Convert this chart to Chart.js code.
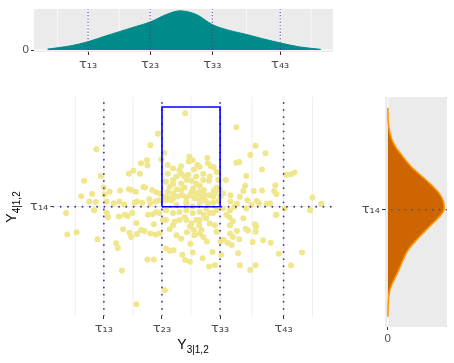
<!DOCTYPE html>
<html><head><meta charset="utf-8">
<script src="https://cdn.jsdelivr.net/npm/chart.js"></script>
<style>
html,body{margin:0;padding:0;background:#fff;width:454px;height:363px;overflow:hidden;font-family:'Liberation Sans',Arial,sans-serif;}
.box{position:absolute;}
.title{position:absolute;font-size:14px;color:#000;white-space:nowrap;line-height:16px;}
.title .s{font-size:10px;position:relative;top:4px;}
</style></head><body>
<div class="box" style="left:0;top:0;width:340px;height:80px"><canvas id="ct" width="340" height="80"></canvas></div>
<div class="box" style="left:0;top:80px;width:340px;height:283px"><canvas id="cm" width="340" height="283"></canvas></div>
<div class="box" style="left:340px;top:80px;width:114px;height:283px"><canvas id="cr" width="114" height="283"></canvas></div>
<div class="title" style="left:53px;width:280px;top:336px;text-align:center">Y<span class="s">3|1,2</span></div>
<div class="title" style="left:-28px;top:198px;width:80px;text-align:center;transform:rotate(-90deg)">Y<span class="s">4|1,2</span></div>
<script>
// ---- data ----
const tauXLabels = ['τ₁₃', 'τ₂₃', 'τ₃₃', 'τ₄₃'];
const tauX = [-1.5, -0.5, 0.5, 1.593];
const tauYLabels = ['τ₁₄'];
const tauY = [0];
const minorX = [-1.99, -1.0, 0.0, 1.05, 2.09];
const xRange = [-2.37, 2.443];
const yRangeMain = [-1.884, 1.897];
const yRangeSide = [-1.845, 1.775];
const densRange = [-0.05, 1.05];
const boxTop = 1.719;

// scatter: Y3|1,2 (x) and Y4|1,2 (y)
const y3 = [-0.10,-0.57,0.78,-1.63,-0.70,-0.46,-0.76,-0.51,1.11,1.28,1.02,0.83,0.78,-0.03,-0.04,0.28,0.11,0.05,0.15,0.34,0.39,-0.31,-0.20,-0.17,-0.25,1.22,-0.86,-0.99,-1.07,-0.88,-1.55,-1.84,-0.43,1.64,1.72,1.78,0.95,0.60,0.32,0.31,0.01,-0.07,-0.17,-0.31,-0.37,-0.25,0.04,0.15,0.22,0.44,0.49,0.39,0.68,0.93,0.90,1.08,1.22,1.45,1.43,1.47,-1.89,-1.70,-1.50,-1.49,-1.40,-1.22,-1.07,-1.03,-0.95,-0.82,-0.79,-0.67,-0.60,-0.53,-1.75,-1.64,-1.45,-1.33,-1.23,-1.15,-0.97,-0.93,-0.84,-0.72,-0.70,-0.61,-0.55,-0.46,-0.40,-0.34,-0.23,-0.15,-0.08,-0.02,0.06,0.16,0.20,0.25,0.29,0.38,0.47,0.51,0.68,0.79,0.84,0.97,1.13,1.17,1.30,1.36,2.09,2.24,-0.25,-0.08,0.03,0.15,-0.40,-0.11,0.09,0.21,-0.31,0.15,0.32,-0.17,-0.43,0.47,0.44,0.03,-0.75,0.55,
-0.31,-0.11,0.01,0.09,0.24,0.38,-0.40,-0.31,-0.08,0.15,0.41,0.09,-0.05,0.21,0.29,-0.17,-0.40,
-2.15,-2.13,-1.97,-1.61,-1.67,-1.45,-1.43,-1.29,-1.26,-1.19,-1.24,-1.14,-1.09,-1.01,-1.17,-1.06,-1.03,-0.94,-0.93,-0.86,-0.80,-0.74,-0.66,-0.60,-0.55,-0.64,-0.75,-0.64,-0.70,-0.61,-0.54,-0.45,-0.94,-0.48,-0.43,-0.37,-0.43,-0.36,-0.30,-0.28,-0.20,-0.11,-0.15,-0.10,-0.02,-0.07,-0.02,0.01,0.05,0.09,0.14,0.18,0.22,0.26,0.32,0.38,0.41,0.44,-0.01,0.03,0.20,0.27,0.31,0.41,0.37,0.52,0.51,0.56,0.63,0.70,0.61,0.66,0.67,0.72,0.79,0.83,0.81,0.84,0.90,0.94,0.98,1.02,1.11,1.06,1.10,1.12,1.24,1.37,1.47,1.51,1.61,1.72,1.91,2.05,0.55,0.67,0.75,0.95,1.04,0.67,0.72,0.15,0.21,0.06,-0.25,-0.17,1.46,1.11,
-0.43,-0.31,-0.20,-0.08,0.03,0.15,0.26,0.44,-0.08,0.15,0.32,-0.31];
const y4 = [1.61,1.26,1.37,0.99,1.06,0.93,0.80,0.82,1.05,0.92,0.89,0.77,0.76,0.86,0.78,0.84,0.72,0.64,0.69,0.70,0.68,0.66,0.63,0.57,0.52,0.64,0.75,0.62,0.57,0.57,0.53,0.45,0.43,0.55,0.56,0.59,0.53,0.46,0.52,0.45,0.45,0.46,0.40,0.39,0.34,0.30,0.32,0.36,0.29,0.33,0.29,0.28,0.20,0.36,0.27,0.27,0.28,0.37,0.27,0.22,0.18,0.22,0.33,0.21,0.26,0.28,0.30,0.29,0.26,0.34,0.33,0.29,0.25,0.23,0.09,0.08,0.09,0.06,0.09,0.04,0.07,0.09,0.07,0.13,0.06,0.09,0.11,0.17,0.16,0.11,0.18,0.20,0.16,0.20,0.14,0.17,0.13,0.10,0.06,0.07,0.10,0.18,0.09,0.05,0.17,0.11,0.10,0.06,0.05,0.06,0.16,0.05,0.03,0.05,0.01,0.05,0.57,0.52,0.52,0.46,0.23,0.26,0.20,0.29,0.11,0.46,0.60,0.80,0.71,0.23,
0.46,0.33,0.26,0.23,0.20,0.17,0.26,0.14,0.09,0.11,0.23,0.40,0.55,0.57,0.75,0.70,0.72,
-0.11,-0.48,-0.44,-0.56,-0.06,-0.11,-0.18,-0.63,-0.71,-1.10,-0.17,-0.14,-0.16,-0.11,-0.39,-0.45,-0.52,-0.28,-0.47,-0.40,-0.42,-0.14,-0.13,-0.09,-0.11,-0.30,-0.91,-0.91,-0.46,-0.48,-0.46,-1.44,-1.68,-0.23,-0.23,-0.39,-0.72,-0.76,-0.75,-0.26,-0.23,-0.18,-0.83,-0.92,-0.95,-0.44,-0.34,-0.29,-0.40,-0.23,-0.32,-0.40,-0.14,-0.20,-0.11,-0.11,-0.32,-0.43,-0.64,-0.79,-0.89,-0.60,-1.03,-1.01,-0.78,-0.83,-0.60,-0.57,-0.62,-0.66,-0.14,-0.18,-0.32,-0.25,-0.42,-0.56,-0.80,-1.01,-0.20,-0.38,-0.41,-1.09,-1.01,-0.61,-0.30,-0.34,-0.58,-0.62,-0.14,-0.81,-0.03,-1.01,-0.79,-0.06,-0.03,-0.06,0.00,-0.03,0.03,-0.46,-0.52,-0.46,-0.52,-0.49,-0.49,-0.55,-0.14,-0.43,
-0.06,-0.11,-0.09,-0.06,-0.11,-0.09,-0.03,-0.06,-0.23,-0.23,-0.29,-0.32];

// marginal density of Y3|1,2 (relative height)
const densXGrid = [-2.152,-1.78,-1.50,-1.222,-0.982,-0.741,-0.50,-0.232,-0.018,0.195,0.302,0.41,0.50,0.624,0.837,1.052,1.314,1.587,1.908,2.245];
const densXVal  = [0.024,0.107,0.214,0.357,0.476,0.595,0.714,0.912,1.0,0.936,0.857,0.738,0.65,0.571,0.476,0.398,0.286,0.183,0.079,0.017];
// marginal density of Y4|1,2 (relative height)
const densYGrid = [1.606,1.35,1.124,0.992,0.835,0.677,0.468,0.258,0.126,0.022,-0.11,-0.215,-0.425,-0.635,-0.79,-0.976,-1.134,-1.265,-1.42,-1.685];
const densYVal  = [0.0,0.01,0.064,0.135,0.269,0.415,0.678,0.912,0.988,1.0,0.912,0.795,0.561,0.357,0.27,0.18,0.093,0.035,0.012,0.0];

// ---- styling ----
const dotCol = '#483D8B';
const tauFont = {family: "'DejaVu Sans', 'Liberation Sans', sans-serif", size: 13};
const numFont = {family: "'Liberation Sans', Arial, sans-serif", size: 11.5};
const tickCol = '#4D4D4D';

const panelBg = {
  id: 'panelBg',
  beforeDatasetsDraw(chart, args, o) {
    const {ctx, chartArea: a, scales} = chart;
    ctx.save();
    if (o.fill) { ctx.fillStyle = o.fill; ctx.fillRect(a.left, a.top, a.width, a.height); }
    ctx.strokeStyle = o.color;
    const vl = (vals, w) => (vals || []).forEach(v => {
      const x = scales.x.getPixelForValue(v);
      ctx.lineWidth = w; ctx.beginPath(); ctx.moveTo(x, a.top); ctx.lineTo(x, a.bottom); ctx.stroke();
    });
    const hl = (vals, w) => (vals || []).forEach(v => {
      const y = scales.y.getPixelForValue(v);
      ctx.lineWidth = w; ctx.beginPath(); ctx.moveTo(a.left, y); ctx.lineTo(a.right, y); ctx.stroke();
    });
    vl(o.vMinor, o.minorW); vl(o.vMajor, o.majorW); hl(o.hMajor, o.majorW);
    ctx.restore();
  }
};

function axis(range, ticks, labels, size, isX, font) {
  const cfg = {
    type: 'linear', min: range[0], max: range[1],
    afterBuildTicks: s => { s.ticks = ticks.map(v => ({value: v})); },
    ticks: {callback: (v, i) => labels[i], font: font, color: tickCol, padding: 2, autoSkip: false, maxRotation: 0},
    grid: {drawOnChartArea: false, drawTicks: true, tickLength: 3, tickColor: '#333333', tickWidth: 1},
    border: {display: false}
  };
  cfg.afterFit = isX ? (s => { s.height = size; }) : (s => { s.width = size; });
  return cfg;
}
const baseOpts = {responsive: false, animation: false, events: []};

// ---- top marginal ----
new Chart(document.getElementById('ct'), {
  type: 'scatter',
  data: {datasets: [
    ...tauX.map(v => ({showLine: true, data: [{x: v, y: densRange[0]}, {x: v, y: densRange[1]}],
      borderColor: dotCol, borderWidth: 1.2, borderDash: [0.1, 3.2], borderCapStyle: 'round', pointRadius: 0, order: 1})),
    {showLine: true, data: densXGrid.map((v, i) => ({x: v, y: densXVal[i]})), fill: 'origin',
      backgroundColor: '#008B8B', borderColor: '#008B8B', borderWidth: 1, pointRadius: 0,
      cubicInterpolationMode: 'monotone', order: 2}
  ]},
  options: {...baseOpts,
    layout: {padding: {top: 5, right: 7, left: 0, bottom: 0}},
    plugins: {legend: {display: false}, tooltip: {enabled: false},
      panelBg: {fill: '#EBEBEB', color: '#FFFFFF', vMinor: minorX, vMajor: tauX, hMajor: [0], minorW: 0.6, majorW: 1.1}},
    scales: {
      x: axis(xRange, tauX, tauXLabels, 28, true, tauFont),
      y: axis(densRange, [0], ['0'], 34, false, numFont)
    }
  },
  plugins: [panelBg]
});

// ---- main scatter ----
new Chart(document.getElementById('cm'), {
  type: 'scatter',
  data: {datasets: [
    {data: y3.map((v, i) => ({x: v, y: y4[i]})), backgroundColor: '#F0E68C', borderWidth: 0, pointRadius: 3, order: 3},
    ...tauX.map(v => ({showLine: true, data: [{x: v, y: yRangeMain[0]}, {x: v, y: yRangeMain[1]}],
      borderColor: dotCol, borderWidth: 1.8, borderDash: [0.1, 7], borderCapStyle: 'round', pointRadius: 0, order: 2})),
    ...tauY.map(v => ({showLine: true, data: [{x: xRange[0], y: v}, {x: xRange[1], y: v}],
      borderColor: dotCol, borderWidth: 1.8, borderDash: [0.1, 7.2], borderCapStyle: 'round', pointRadius: 0, order: 2})),
    {showLine: true, data: [{x: tauX[1], y: tauY[0]}, {x: tauX[1], y: boxTop}, {x: tauX[2], y: boxTop}, {x: tauX[2], y: tauY[0]}, {x: tauX[1], y: tauY[0]}],
      borderColor: '#0000FF', borderWidth: 1.6, pointRadius: 0, tension: 0, borderJoinStyle: 'miter', order: 1}
  ]},
  options: {...baseOpts,
    layout: {padding: {top: 16.7, right: 7, left: 0, bottom: 0}},
    plugins: {legend: {display: false}, tooltip: {enabled: false},
      panelBg: {fill: null, color: '#EBEBEB', vMinor: minorX, vMajor: tauX, hMajor: tauY, minorW: 0.8, majorW: 1}},
    scales: {
      x: axis(xRange, tauX, tauXLabels, 47, true, tauFont),
      y: axis(yRangeMain, tauY, tauYLabels, 53.3, false, tauFont)
    }
  },
  plugins: [panelBg]
});

// ---- right marginal ----
new Chart(document.getElementById('cr'), {
  type: 'line',
  data: {datasets: [
    {data: densYGrid.map((v, i) => ({x: densYVal[i], y: v})), fill: 'origin',
      backgroundColor: '#CD6600', borderColor: '#FF9500', borderWidth: 1.6, pointRadius: 0,
      cubicInterpolationMode: 'monotone', order: 2},
    ...tauY.map(v => ({data: [{x: densRange[0], y: v}, {x: densRange[1], y: v}],
      borderColor: '#4A4A66', borderWidth: 1.6, borderDash: [0.1, 6.7], borderCapStyle: 'round', pointRadius: 0, fill: false, order: 1}))
  ]},
  options: {...baseOpts, indexAxis: 'y',
    layout: {padding: {top: 17, right: 7, left: 0, bottom: 0}},
    plugins: {legend: {display: false}, tooltip: {enabled: false},
      panelBg: {fill: '#EBEBEB', color: '#FFFFFF', vMajor: [0], hMajor: tauY, minorW: 0.6, majorW: 1.1}},
    scales: {
      x: axis(densRange, [0], ['0'], 36, true, numFont),
      y: axis(yRangeSide, tauY, tauYLabels, 45, false, tauFont)
    }
  },
  plugins: [panelBg]
});
</script>
</body></html>
